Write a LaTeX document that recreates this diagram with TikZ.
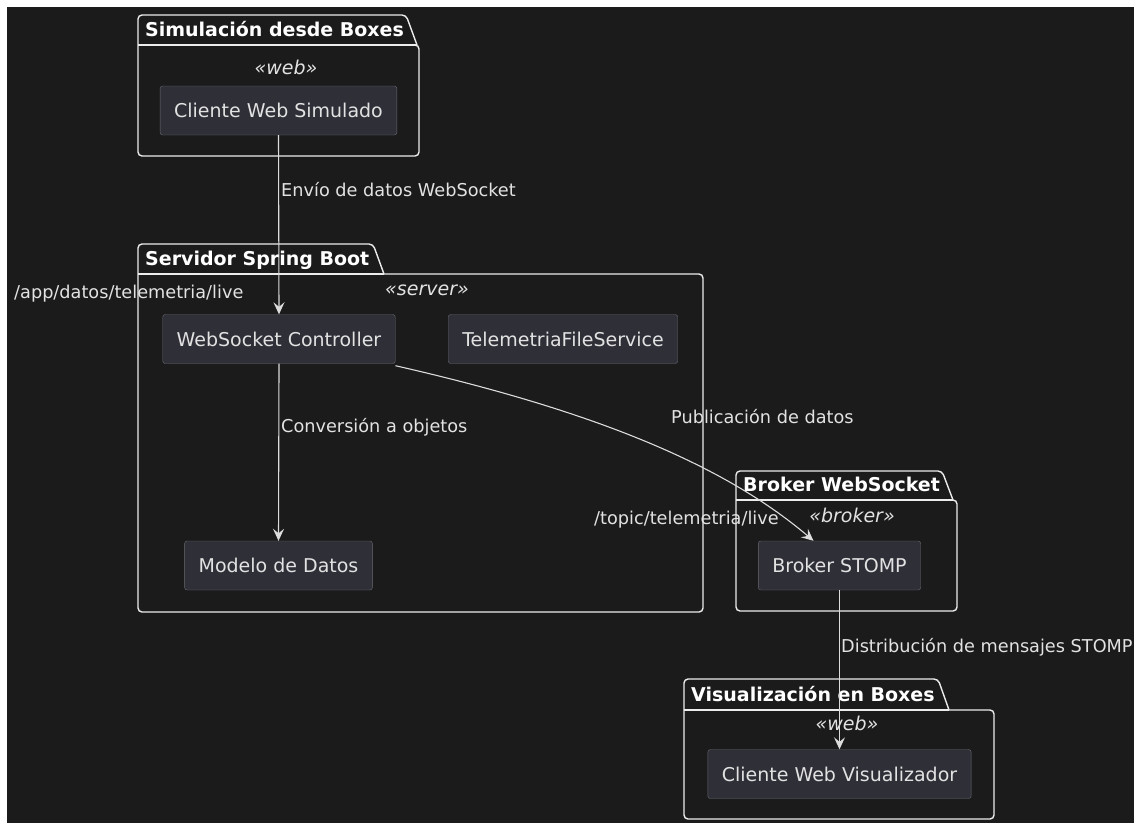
\documentclass[tikz,border=0pt]{standalone}
\usepackage{fontspec}
\setmainfont{DejaVu Sans}
\usetikzlibrary{arrows.meta}

\definecolor{fondo}{RGB}{27,27,28}
\definecolor{relleno}{RGB}{47,47,56}
\definecolor{borde}{RGB}{105,105,112}
\definecolor{linea}{RGB}{236,236,236}
\definecolor{flechas}{RGB}{220,220,220}
\definecolor{texto}{RGB}{226,226,226}

% paquete: nombre, x0, y arriba, y pestana, x pestana, x derecha, y abajo, titulo
\newcommand{\paquete}[8]{%
  \draw[pkg] ({#5+11},#4) -- (#6,#4) -- (#6,#7) -- (#2,#7) -- (#2,#3) -- (#5,#3) -- ({#5+11},#4);
  \draw[pkg, rounded corners=0pt] (#2,#4) -- ({#5+11},#4);
  \node[pkgtitle] (#1) at ({#2+7},{#4-9}) {#8};
}

\begin{document}
\begin{tikzpicture}[x=1pt, y=-1pt,
  comp/.style={draw=borde, fill=relleno, rounded corners=2.5pt, text=texto,
    font=\fontsize{19}{22}\selectfont, minimum height=49pt, inner xsep=14pt},
  pkg/.style={draw=linea, line width=1.4pt, rounded corners=4pt},
  pkgtitle/.style={anchor=base west, inner sep=0pt, text=white,
    font=\bfseries\fontsize{19}{22}\selectfont},
  estereo/.style={anchor=base, inner sep=0pt, text=texto,
    font=\itshape\fontsize{19}{22}\selectfont},
  etiq/.style={anchor=base west, inner sep=0pt, text=texto,
    font=\fontsize{17.7}{20}\selectfont},
  flecha/.style={draw=flechas, line width=1.1pt,
    -{Stealth[length=12pt, width=11pt, inset=4.5pt]}}]

  % Fondo
  \useasboundingbox (0,0) rectangle (1134,823);
  \fill[white] (0,0) rectangle (1134,823);
  \fill[fondo] (7,7) rectangle (1134,823);

  % Paquetes
  \paquete{simul}{138}{15}{45}{406}{419}{156}{Simulación desde Boxes}
  \paquete{servidor}{138}{244}{274}{373}{703}{612}{Servidor Spring Boot}
  \paquete{broker}{736}{471}{500}{942}{957}{611}{Broker WebSocket}
  \paquete{visual}{684}{679}{710}{938}{994}{819}{Visualización en Boxes}

  % Estereotipos
  \node[estereo] (st1) at (286,74) {«web»};
  \node[estereo] (st2) at (427,295) {«server»};
  \node[estereo] (st3) at (852,522) {«broker»};
  \node[estereo] (st4) at (847,730) {«web»};

  % Componentes
  \node[comp] (cws) at (278.5,110.5) {Cliente Web Simulado};
  \node[comp] (wsc) at (279,339) {WebSocket Controller};
  \node[comp] (tfs) at (563,339) {TelemetriaFileService};
  \node[comp] (mdd) at (278.5,565.5) {Modelo de Datos};
  \node[comp] (bst) at (839.5,565.5) {Broker STOMP};
  \node[comp] (cwv) at (839.5,774) {Cliente Web Visualizador};

  % Flechas
  \draw[flecha] (cws.south) -- (wsc.north);
  \draw[flecha] (wsc.south) -- (mdd.north);
  \draw[flecha] ([yshift=-2pt]wsc.south east) .. controls (590,410) and (722,463) .. ([xshift=-26pt]bst.north);
  \draw[flecha] (bst.south) -- (cwv.north);

  % Etiquetas
  \node[etiq] (e1) at (281,196) {Envío de datos WebSocket};
  \node[etiq] (e2) at (14,298) {/app/datos/telemetria/live};
  \node[etiq] (e3) at (281,432) {Conversión a objetos};
  \node[etiq] (e4) at (671,423) {Publicación de datos};
  \node[etiq] (e5) at (594,524) {/topic/telemetria/live};
  \node[etiq] (e6) at (841,652) {Distribución de mensajes STOMP};
\end{tikzpicture}
\end{document}
